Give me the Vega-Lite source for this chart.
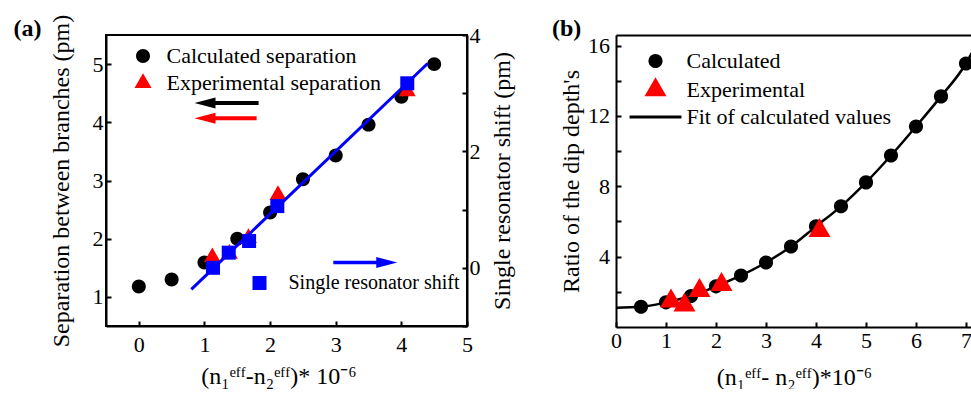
{
  "$schema": "https://vega.github.io/schema/vega-lite/v6.json",
  "padding": {"left": 12, "top": 13, "right": 0, "bottom": 0},
  "background": "white",
  "bounds": "flush",
  "spacing": 149,
  "datasets": {
    "a_sep": [
      {"x": 0, "y": 1.18, "series": "Calculated separation"},
      {"x": 0.5, "y": 1.3, "series": "Calculated separation"},
      {"x": 1, "y": 1.59, "series": "Calculated separation"},
      {"x": 1.5, "y": 2.0, "series": "Calculated separation"},
      {"x": 2, "y": 2.45, "series": "Calculated separation"},
      {"x": 2.5, "y": 3.02, "series": "Calculated separation"},
      {"x": 3, "y": 3.43, "series": "Calculated separation"},
      {"x": 3.5, "y": 3.96, "series": "Calculated separation"},
      {"x": 4, "y": 4.44, "series": "Calculated separation"},
      {"x": 4.5, "y": 5.0, "series": "Calculated separation"},
      {"x": 1.12, "y": 1.68, "series": "Experimental separation"},
      {"x": 1.38, "y": 1.74, "series": "Experimental separation"},
      {"x": 1.67, "y": 2.01, "series": "Experimental separation"},
      {"x": 2.12, "y": 2.75, "series": "Experimental separation"},
      {"x": 4.09, "y": 4.53, "series": "Experimental separation"}
    ],
    "a_shift": [
      {"x": 1.13, "shift": 0.0, "series": "Single resonator shift"},
      {"x": 1.37, "shift": 0.26, "series": "Single resonator shift"},
      {"x": 1.68, "shift": 0.46, "series": "Single resonator shift"},
      {"x": 2.11, "shift": 1.06, "series": "Single resonator shift"},
      {"x": 4.09, "shift": 3.17, "series": "Single resonator shift"}
    ],
    "a_fit": [
      {"x": 0.8, "shift": -0.37},
      {"x": 4.4, "shift": 3.51}
    ],
    "b_pts": [
      {"x": 0.5, "y": 1.15, "series": "Calculated"},
      {"x": 1, "y": 1.4, "series": "Calculated"},
      {"x": 1.5, "y": 1.76, "series": "Calculated"},
      {"x": 2, "y": 2.31, "series": "Calculated"},
      {"x": 2.5, "y": 2.93, "series": "Calculated"},
      {"x": 3, "y": 3.67, "series": "Calculated"},
      {"x": 3.5, "y": 4.58, "series": "Calculated"},
      {"x": 4, "y": 5.72, "series": "Calculated"},
      {"x": 4.5, "y": 6.86, "series": "Calculated"},
      {"x": 5, "y": 8.22, "series": "Calculated"},
      {"x": 5.5, "y": 9.75, "series": "Calculated"},
      {"x": 6, "y": 11.4, "series": "Calculated"},
      {"x": 6.5, "y": 13.11, "series": "Calculated"},
      {"x": 7, "y": 14.98, "series": "Calculated"},
      {"x": 1.1, "y": 1.47, "series": "Experimental"},
      {"x": 1.37, "y": 1.24, "series": "Experimental"},
      {"x": 1.67, "y": 2.06, "series": "Experimental"},
      {"x": 2.11, "y": 2.41, "series": "Experimental"},
      {"x": 4.07, "y": 5.48, "series": "Experimental"}
    ],
    "b_fit": [
      {"x": 0, "y": 1.1},
      {"x": 0.5, "y": 1.15},
      {"x": 1, "y": 1.4},
      {"x": 1.5, "y": 1.76},
      {"x": 2, "y": 2.31},
      {"x": 2.5, "y": 2.93},
      {"x": 3, "y": 3.67},
      {"x": 3.5, "y": 4.58},
      {"x": 4, "y": 5.72},
      {"x": 4.5, "y": 6.86},
      {"x": 5, "y": 8.22},
      {"x": 5.5, "y": 9.75},
      {"x": 6, "y": 11.4},
      {"x": 6.5, "y": 13.11},
      {"x": 7, "y": 14.98},
      {"x": 7.3, "y": 16.6}
    ]
  },
  "config": {
    "font": "Liberation Serif",
    "view": {"stroke": null},
    "style": {
      "guide-label": {"font": "Liberation Serif", "fill": "black"},
      "guide-title": {"font": "Liberation Serif", "fill": "black"}
    },
    "axis": {
      "grid": false,
      "domainColor": "black",
      "domainWidth": 2,
      "tickColor": "black",
      "tickWidth": 2,
      "tickSize": -5,
      "labelFont": "Liberation Serif",
      "labelFontSize": 22,
      "labelColor": "black",
      "titleFont": "Liberation Serif",
      "titleFontSize": 24,
      "titleFontWeight": "normal",
      "titleColor": "black",
      "labelFlush": false,
      "labelOverlap": false
    },
    "legend": {
      "labelFont": "Liberation Serif",
      "labelFontSize": 22,
      "labelColor": "black",
      "labelLimit": 500,
      "padding": 0,
      "symbolOpacity": 1,
      "symbolStrokeWidth": 0
    },
    "title": {
      "font": "Liberation Serif",
      "fontSize": 24,
      "fontWeight": "bold",
      "color": "black",
      "anchor": "start",
      "frame": "group",
      "offset": 0
    }
  },
  "hconcat": [
    {
      "width": 361,
      "height": 291,
      "view": {"stroke": "black", "strokeWidth": 2},
      "title": {"text": "(a)", "dx": -92.5, "dy": 31},
      "layer": [
        {
          "layer": [
            {
              "data": {"name": "a_sep"},
              "mark": {"type": "point", "filled": true, "opacity": 1, "size": 289},
              "encoding": {
                "x": {
                  "field": "x", "type": "quantitative",
                  "scale": {"domain": [-0.5, 5], "nice": false, "zero": false},
                  "axis": {
                    "values": [0, 0.5, 1, 1.5, 2, 2.5, 3, 3.5, 4, 4.5, 5],
                    "labelExpr": "datum.value % 1 === 0 ? format(datum.value, 'd') : ''",
                    "labelFont": "Liberation Serif",
                    "labelFontSize": 22,
                    "titleFont": "Liberation Serif",
                    "titleFontSize": 24,
                    "labelPadding": 13,
                    "title": "(n₁ᵉᶠᶠ-n₂ᵉᶠᶠ)* 10⁻⁶",
                    "titleX": 172.5,
                    "titlePadding": 9
                  }
                },
                "y": {
                  "field": "y", "type": "quantitative",
                  "scale": {"domain": [0.5, 5.5], "nice": false, "zero": false},
                  "axis": {
                    "values": [1, 1.5, 2, 2.5, 3, 3.5, 4, 4.5, 5],
                    "labelExpr": "datum.value % 1 === 0 ? format(datum.value, 'd') : ''",
                    "labelFont": "Liberation Serif",
                    "labelFontSize": 22,
                    "titleFont": "Liberation Serif",
                    "titleFontSize": 24,
                    "labelPadding": 8,
                    "title": "Separation between branches (pm)",
                    "titlePadding": 19
                  }
                },
                "shape": {
                  "field": "series", "type": "nominal",
                  "scale": {
                    "domain": ["Calculated separation", "Experimental separation"],
                    "range": ["M-0.82,0A0.82,0.82,0,1,1,0.82,0A0.82,0.82,0,1,1,-0.82,0Z", "M0,-1.155L1,0.577L-1,0.577Z"]
                  },
                  "legend": {"title": null, "orient": "none", "legendX": 26, "legendY": 10, "labelOffset": 12.5, "rowPadding": 5, "symbolSize": 289}
                },
                "color": {
                  "field": "series", "type": "nominal",
                  "scale": {
                    "domain": ["Calculated separation", "Experimental separation"],
                    "range": ["#000000", "#ff0000"]
                  },
                  "legend": {"title": null, "orient": "none", "legendX": 26, "legendY": 10, "labelOffset": 12.5, "rowPadding": 5, "symbolSize": 289}
                }
              }
            },
            {
              "data": {"values": [{}]},
              "mark": {"type": "rule", "color": "black", "strokeWidth": 4},
              "encoding": {"x": {"datum": 1.13}, "x2": {"datum": 1.825}, "y": {"datum": 4.33}}
            },
            {
              "data": {"values": [{}]},
              "mark": {"type": "point", "shape": "M0,0L2.1,-0.55L2.1,0.55Z", "filled": true, "opacity": 1, "color": "black", "size": 400},
              "encoding": {"x": {"datum": 0.848}, "y": {"datum": 4.33}}
            },
            {
              "data": {"values": [{}]},
              "mark": {"type": "rule", "color": "#ff0000", "strokeWidth": 4},
              "encoding": {"x": {"datum": 1.13}, "x2": {"datum": 1.795}, "y": {"datum": 4.07}}
            },
            {
              "data": {"values": [{}]},
              "mark": {"type": "point", "shape": "M0,0L2.1,-0.55L2.1,0.55Z", "filled": true, "opacity": 1, "color": "#ff0000", "size": 400},
              "encoding": {"x": {"datum": 0.848}, "y": {"datum": 4.07}}
            }
          ]
        },
        {
          "layer": [
            {
              "data": {"name": "a_fit"},
              "mark": {"type": "line", "color": "#0000ff", "strokeWidth": 3},
              "encoding": {
                "x": {"field": "x", "type": "quantitative"},
                "y": {
                  "field": "shift", "type": "quantitative",
                  "scale": {"domain": [-1, 4], "nice": false, "zero": false},
                  "axis": {
                    "orient": "right",
                    "values": [-1, 0, 1, 2, 3, 4],
                    "labelExpr": "datum.value % 2 === 0 ? format(datum.value, 'd') : ''",
                    "labelFont": "Liberation Serif",
                    "labelFontSize": 22,
                    "titleFont": "Liberation Serif",
                    "titleFontSize": 24,
                    "labelPadding": 7,
                    "title": "Single resonator shift (pm)",
                    "titleAngle": 270,
                    "titleBaseline": "top",
                    "titlePadding": 10
                  }
                }
              }
            },
            {
              "data": {"name": "a_shift"},
              "mark": {"type": "square", "filled": true, "opacity": 1, "size": 196},
              "encoding": {
                "x": {"field": "x", "type": "quantitative"},
                "y": {"field": "shift", "type": "quantitative"},
                "color": {
                  "field": "series", "type": "nominal",
                  "scale": {"domain": ["Single resonator shift"], "range": ["#0000ff"]},
                  "legend": {"title": null, "orient": "none", "legendX": 143.5, "legendY": 238, "labelOffset": 19, "labelFontSize": 20, "symbolSize": 196, "symbolType": "square"}
                }
              }
            },
            {
              "data": {"values": [{}]},
              "mark": {"type": "rule", "color": "#0000ff", "strokeWidth": 3.5},
              "encoding": {"x": {"datum": 2.963}, "x2": {"datum": 3.64}, "y": {"datum": 0.09}}
            },
            {
              "data": {"values": [{}]},
              "mark": {"type": "point", "shape": "M0,0L-2.1,-0.55L-2.1,0.55Z", "filled": true, "opacity": 1, "color": "#0000ff", "size": 400},
              "encoding": {"x": {"datum": 3.937}, "y": {"datum": 0.09}}
            }
          ]
        }
      ],
      "resolve": {"scale": {"y": "independent", "color": "independent", "shape": "independent"}}
    },
    {
      "width": 356,
      "height": 292,
      "title": {"text": "(b)", "dx": -64, "dy": 13},
      "layer": [
        {
          "layer": [
            {
              "data": {"name": "b_fit"},
              "mark": {"type": "line", "color": "black", "strokeWidth": 2.5, "clip": true, "interpolate": "monotone"},
              "encoding": {
                "x": {
                  "field": "x", "type": "quantitative",
                  "scale": {"domain": [0, 7.12], "nice": false, "zero": false},
                  "axis": {
                    "values": [0, 0.5, 1, 1.5, 2, 2.5, 3, 3.5, 4, 4.5, 5, 5.5, 6, 6.5, 7],
                    "labelExpr": "datum.value % 1 === 0 ? format(datum.value, 'd') : ''",
                    "labelFont": "Liberation Serif",
                    "labelFontSize": 22,
                    "titleFont": "Liberation Serif",
                    "titleFontSize": 24,
                    "labelPadding": 8,
                    "title": "(n₁ᵉᶠᶠ- n₂ᵉᶠᶠ)*10⁻⁶",
                    "titlePadding": 14
                  }
                },
                "y": {
                  "field": "y", "type": "quantitative",
                  "scale": {"domain": [0, 16.6], "nice": false, "zero": false},
                  "axis": {
                    "values": [2, 4, 6, 8, 10, 12, 14, 16],
                    "labelExpr": "datum.value % 4 === 0 ? format(datum.value, 'd') : ''",
                    "labelFont": "Liberation Serif",
                    "labelFontSize": 22,
                    "titleFont": "Liberation Serif",
                    "titleFontSize": 24,
                    "labelPadding": 11.5,
                    "title": "Ratio of the dip depth's",
                    "titlePadding": 4
                  }
                }
              }
            },
            {
              "data": {"name": "b_pts"},
              "mark": {"type": "point", "filled": true, "opacity": 1, "size": 484},
              "encoding": {
                "x": {"field": "x", "type": "quantitative"},
                "y": {"field": "y", "type": "quantitative"},
                "shape": {
                  "field": "series", "type": "nominal",
                  "scale": {
                    "domain": ["Calculated", "Experimental", "Fit of calculated values"],
                    "range": ["M-0.64,0A0.64,0.64,0,1,1,0.64,0A0.64,0.64,0,1,1,-0.64,0Z", "M0,-1.155L1,0.577L-1,0.577Z", "M-2.36,-0.13L2.36,-0.13L2.36,0.13L-2.36,0.13Z"]
                  },
                  "legend": {"title": null, "orient": "none", "legendX": 538.5, "legendY": 15, "labelOffset": 20, "rowPadding": 5, "symbolSize": 484}
                },
                "color": {
                  "field": "series", "type": "nominal",
                  "scale": {
                    "domain": ["Calculated", "Experimental", "Fit of calculated values"],
                    "range": ["#000000", "#ff0000", "#000000"]
                  },
                  "legend": {"title": null, "orient": "none", "legendX": 538.5, "legendY": 15, "labelOffset": 20, "rowPadding": 5, "symbolSize": 484}
                }
              }
            }
          ]
        },
        {
          "data": {"name": "b_fit"},
          "mark": {"type": "point", "opacity": 0},
          "encoding": {
            "x": {
              "field": "x", "type": "quantitative",
              "scale": {"domain": [0, 7.12], "nice": false, "zero": false},
              "axis": {"orient": "top", "labels": false, "ticks": false, "title": null, "domain": true}
            },
            "y": {"field": "y", "type": "quantitative"}
          }
        }
      ],
      "resolve": {"scale": {"x": "independent"}}
    }
  ]
}
